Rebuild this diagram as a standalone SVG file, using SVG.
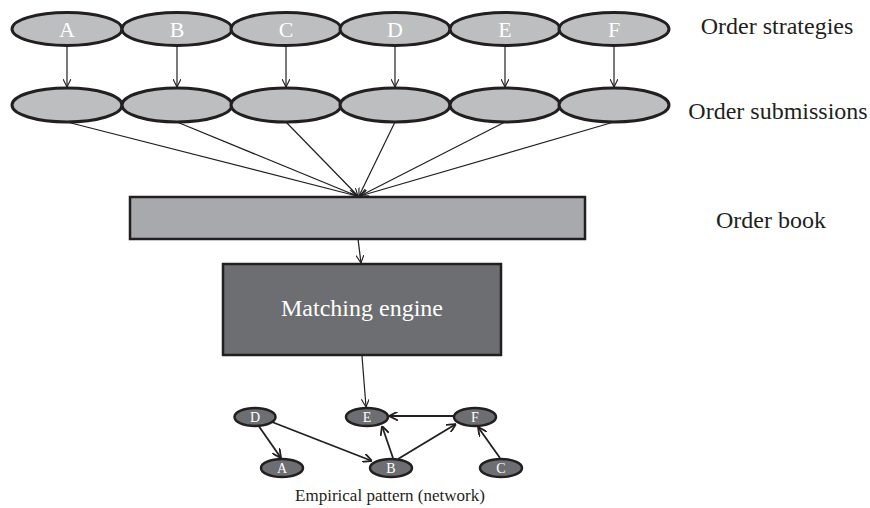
<svg xmlns="http://www.w3.org/2000/svg" width="870" height="508" viewBox="0 0 870 508">
<defs>
<marker id="ah" viewBox="0 0 10 10" refX="10" refY="5" markerWidth="8" markerHeight="8" markerUnits="userSpaceOnUse" orient="auto">
<path d="M0,0 L10,5 L0,10" fill="none" stroke="#231f20" stroke-width="1.4"/>
</marker>
<marker id="ah2" viewBox="0 0 10 10" refX="10" refY="5" markerWidth="9" markerHeight="9" markerUnits="userSpaceOnUse" orient="auto">
<path d="M0,0 L10,5 L0,10" fill="none" stroke="#231f20" stroke-width="2"/>
</marker>
</defs>
<style>
.ell{fill:#bcbec0;stroke:#231f20;stroke-width:3}
.net{fill:#6d6e71;stroke:#231f20;stroke-width:2.5}
text{font-family:'Liberation Serif','Times New Roman','DejaVu Serif',serif}
.lbl{fill:#ffffff;text-anchor:middle}
.side{fill:#231f20;font-size:24px;text-anchor:middle}
.con{stroke:#231f20;stroke-width:1.2;fill:none;marker-end:url(#ah)}
.ncon{stroke:#231f20;stroke-width:1.8;fill:none;marker-end:url(#ah2)}
</style>
<rect width="870" height="508" fill="#ffffff"/>
<g id="connectors">
<line class="con" x1="67" y1="46" x2="67" y2="87"/>
<line class="con" x1="177" y1="46" x2="177" y2="87"/>
<line class="con" x1="286" y1="46" x2="286" y2="87"/>
<line class="con" x1="395" y1="46" x2="395" y2="87"/>
<line class="con" x1="505" y1="46" x2="505" y2="87"/>
<line class="con" x1="614" y1="46" x2="614" y2="87"/>
<line class="con" x1="67" y1="122" x2="357" y2="196"/>
<line class="con" x1="177" y1="122" x2="357" y2="196"/>
<line class="con" x1="286" y1="122" x2="358" y2="196"/>
<line class="con" x1="395" y1="122" x2="359" y2="196"/>
<line class="con" x1="505" y1="122" x2="360" y2="196"/>
<line class="con" x1="614" y1="122" x2="360" y2="196"/>
<line class="con" x1="358" y1="239" x2="361" y2="263"/>
<line class="con" x1="362" y1="356" x2="366" y2="407"/>
<line class="ncon" x1="258" y1="425" x2="281" y2="458"/>
<line class="ncon" x1="272" y1="422" x2="372" y2="461"/>
<line class="ncon" x1="393" y1="458" x2="382" y2="426"/>
<line class="ncon" x1="398" y1="459" x2="456" y2="424"/>
<line class="ncon" x1="454" y1="416" x2="389" y2="416"/>
<line class="ncon" x1="500" y1="458" x2="478" y2="427"/>
</g>
<g id="strategy-A"><ellipse class="ell" cx="67" cy="29" rx="55" ry="16.5"/><text class="lbl" x="67" y="37" font-size="22">A</text></g>
<g id="strategy-B"><ellipse class="ell" cx="177" cy="29" rx="55" ry="16.5"/><text class="lbl" x="177" y="37" font-size="22">B</text></g>
<g id="strategy-C"><ellipse class="ell" cx="286" cy="29" rx="55" ry="16.5"/><text class="lbl" x="286" y="37" font-size="22">C</text></g>
<g id="strategy-D"><ellipse class="ell" cx="395" cy="29" rx="55" ry="16.5"/><text class="lbl" x="395" y="37" font-size="22">D</text></g>
<g id="strategy-E"><ellipse class="ell" cx="505" cy="29" rx="55" ry="16.5"/><text class="lbl" x="505" y="37" font-size="22">E</text></g>
<g id="strategy-F"><ellipse class="ell" cx="614" cy="29" rx="55" ry="16.5"/><text class="lbl" x="614" y="37" font-size="22">F</text></g>
<g id="submission-1"><ellipse class="ell" cx="67" cy="105" rx="55" ry="17"/></g>
<g id="submission-2"><ellipse class="ell" cx="177" cy="105" rx="55" ry="17"/></g>
<g id="submission-3"><ellipse class="ell" cx="286" cy="105" rx="55" ry="17"/></g>
<g id="submission-4"><ellipse class="ell" cx="395" cy="105" rx="55" ry="17"/></g>
<g id="submission-5"><ellipse class="ell" cx="505" cy="105" rx="55" ry="17"/></g>
<g id="submission-6"><ellipse class="ell" cx="614" cy="105" rx="55" ry="17"/></g>
<g id="order-book"><rect x="130" y="197" width="455" height="42" fill="#a7a9ac" stroke="#231f20" stroke-width="2.5"/></g>
<g id="matching-engine"><rect x="223" y="264" width="278" height="91" fill="#6d6e71" stroke="#231f20" stroke-width="2.5"/><text class="lbl" x="362" y="316" font-size="24">Matching engine</text></g>
<g id="net-D"><ellipse class="net" cx="255" cy="417" rx="20.5" ry="9"/><text class="lbl" x="255" y="422" font-size="14">D</text></g>
<g id="net-E"><ellipse class="net" cx="367" cy="417" rx="21" ry="9"/><text class="lbl" x="367" y="422" font-size="14">E</text></g>
<g id="net-F"><ellipse class="net" cx="475" cy="417" rx="21" ry="9"/><text class="lbl" x="475" y="422" font-size="14">F</text></g>
<g id="net-A"><ellipse class="net" cx="282" cy="468" rx="21" ry="9"/><text class="lbl" x="282" y="473" font-size="14">A</text></g>
<g id="net-B"><ellipse class="net" cx="391" cy="468" rx="21" ry="9"/><text class="lbl" x="391" y="473" font-size="14">B</text></g>
<g id="net-C"><ellipse class="net" cx="501" cy="468" rx="21" ry="9"/><text class="lbl" x="501" y="473" font-size="14">C</text></g>
<text class="side" x="777" y="34">Order strategies</text>
<text class="side" x="778" y="119">Order submissions</text>
<text class="side" x="771" y="228">Order book</text>
<text x="390" y="501" font-size="17" fill="#231f20" text-anchor="middle">Empirical pattern (network)</text>
</svg>
